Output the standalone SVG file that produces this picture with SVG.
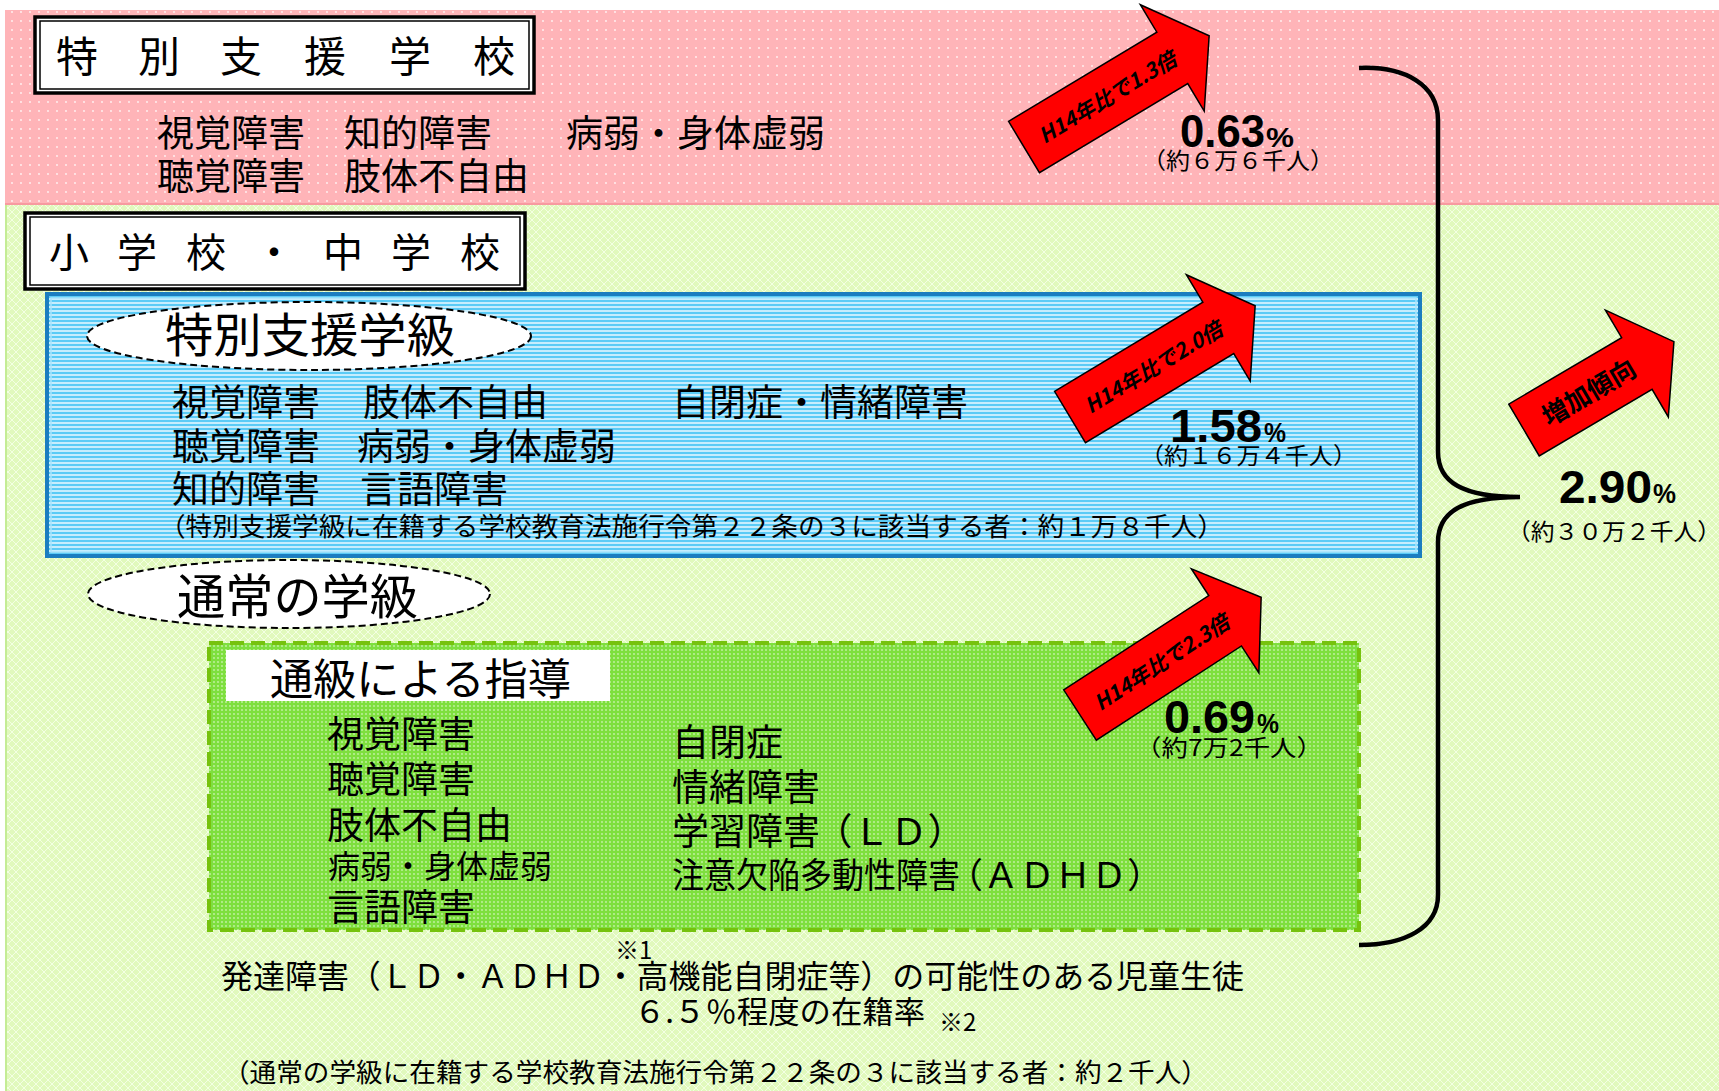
<svg xmlns="http://www.w3.org/2000/svg" xmlns:xlink="http://www.w3.org/1999/xlink" width="1719" height="1091" viewBox="0 0 1719 1091">
<style>
.jp{font-family:"Noto Sans CJK JP","Noto Sans CJK SC",sans-serif;fill:#000;}
.num{font-family:"Liberation Sans",Arial,sans-serif;font-weight:bold;fill:#000;}
.arr{fill:#FF0000;stroke:#000;stroke-width:1.5;stroke-linejoin:miter;}
.arrtxt{font-family:"Noto Sans CJK JP","Noto Sans CJK SC",sans-serif;font-style:italic;font-weight:bold;font-size:21px;fill:#000;}
.frameO{fill:#fff;stroke:#000;stroke-width:3.5;}
.frameI{fill:none;stroke:#000;stroke-width:1.5;}
.ell{fill:#fff;stroke:#000;stroke-width:2;stroke-dasharray:7 4;}
</style>
<defs>
<pattern id="pinkDots" width="9" height="9" patternUnits="userSpaceOnUse">
<rect width="9" height="9" fill="#FFB4B8"/>
<circle cx="3" cy="3" r="0.9" fill="#fff" opacity="0.85"/>
</pattern>
<pattern id="greenLat" width="8" height="8" patternUnits="userSpaceOnUse">
<rect width="8" height="8" fill="#E1F9BD"/>
<path d="M0,0 L8,8 M8,0 L0,8" stroke="#F3FFE3" stroke-width="1"/>
</pattern>
<pattern id="blueStripes" width="8" height="4" patternUnits="userSpaceOnUse">
<rect width="8" height="4" fill="#C6EDFD"/>
<rect width="8" height="2" fill="#5BCBF6"/>
</pattern>
<pattern id="greenDots" width="4" height="4" patternUnits="userSpaceOnUse">
<rect width="4" height="4" fill="#7EDF3E"/>
<circle cx="2" cy="2" r="0.9" fill="#fff" opacity="0.55"/>
</pattern>
<polygon id="arrowLong" points="0,-30 173,-30 173,-62 216,0 173,62 173,30 0,30"/>
<polygon id="arrowShort" points="0,-30 131,-30 131,-62 174,0 131,62 131,30 0,30"/>
</defs>

<rect width="1719" height="1091" fill="#fff"/>

<g id="band-school">
<rect x="5" y="10" width="1714" height="195" fill="url(#pinkDots)"/>
<line x1="5" y1="204" x2="1719" y2="204" stroke="#F79AA0" stroke-width="2"/>
</g>
<g id="band-elementary">
<rect x="5" y="205" width="1714" height="886" fill="url(#greenLat)"/>
<line x1="6" y1="205" x2="6" y2="1091" stroke="#C4EC95" stroke-width="2"/>
</g>

<g id="title-school">
<rect class="frameO" x="35" y="17" width="499" height="76"/>
<rect class="frameI" x="40" y="21" width="489" height="68"/>
<text class="jp" font-size="42" y="72"><tspan x="56">特</tspan><tspan x="138">別</tspan><tspan x="220">支</tspan><tspan x="304">援</tspan><tspan x="389">学</tspan><tspan x="473">校</tspan></text>
</g>

<g id="school-list">
<text class="jp" font-size="37" x="157" y="147">視覚障害</text>
<text class="jp" font-size="37" x="344" y="147">知的障害</text>
<text class="jp" font-size="37" x="566" y="147">病弱・身体虚弱</text>
<text class="jp" font-size="37" x="157" y="190">聴覚障害</text>
<text class="jp" font-size="37" x="344" y="190">肢体不自由</text>
</g>

<g id="title-elementary">
<rect class="frameO" x="25" y="213" width="500" height="76"/>
<rect class="frameI" x="30" y="217" width="490" height="68"/>
<text class="jp" font-size="40" y="267"><tspan x="49">小</tspan><tspan x="117">学</tspan><tspan x="186">校</tspan><tspan x="254">・</tspan><tspan x="323">中</tspan><tspan x="391">学</tspan><tspan x="460">校</tspan></text>
</g>

<g id="special-class">
<rect x="47" y="294" width="1373" height="262" fill="url(#blueStripes)" stroke="#1B7DC0" stroke-width="4"/>
<rect x="51" y="298" width="1365" height="254" fill="none" stroke="#A9E3FB" stroke-width="1.5"/>
<ellipse class="ell" cx="309" cy="336" rx="222" ry="34"/>
<text class="jp" font-size="47" x="165" y="352" textLength="290" lengthAdjust="spacingAndGlyphs">特別支援学級</text>
<text class="jp" font-size="37" x="172" y="416">視覚障害</text>
<text class="jp" font-size="37" x="363" y="416">肢体不自由</text>
<text class="jp" font-size="37" x="672" y="416">自閉症・情緒障害</text>
<text class="jp" font-size="37" x="172" y="460">聴覚障害</text>
<text class="jp" font-size="37" x="357" y="460">病弱・身体虚弱</text>
<text class="jp" font-size="37" x="172" y="503">知的障害</text>
<text class="jp" font-size="37" x="360" y="503">言語障害</text>
<text class="jp" font-size="26" x="159" y="536" textLength="1065" lengthAdjust="spacingAndGlyphs">（特別支援学級に在籍する学校教育法施行令第２２条の３に該当する者：約１万８千人）</text>
</g>

<g id="regular-class">
<ellipse class="ell" cx="289" cy="594" rx="201" ry="34"/>
<text class="jp" font-size="48" x="177" y="614" textLength="241" lengthAdjust="spacingAndGlyphs">通常の学級</text>
</g>

<g id="resource-room">
<rect x="209" y="643" width="1150" height="287" fill="url(#greenDots)" stroke="#76C20E" stroke-width="4" stroke-dasharray="14 7"/>
<rect x="226" y="650" width="384" height="51" fill="#fff"/>
<text class="jp" font-size="43" x="270" y="695" textLength="301" lengthAdjust="spacingAndGlyphs">通級による指導</text>
<text class="jp" font-size="37" x="327" y="748">視覚障害</text>
<text class="jp" font-size="37" x="327" y="793">聴覚障害</text>
<text class="jp" font-size="37" x="327" y="839">肢体不自由</text>
<text class="jp" font-size="32" x="328" y="878">病弱・身体虚弱</text>
<text class="jp" font-size="37" x="327" y="921">言語障害</text>
<text class="jp" font-size="37" x="672" y="756">自閉症</text>
<text class="jp" font-size="37" x="672" y="801">情緒障害</text>
<text class="jp" font-size="37" x="672" y="845">学習障害</text>
<text class="jp" font-size="37" x="815" y="845" textLength="150" lengthAdjust="spacingAndGlyphs">（ＬＤ）</text>
<text class="jp" font-size="35" x="672" y="888" textLength="288" lengthAdjust="spacingAndGlyphs">注意欠陥多動性障害</text>
<text class="jp" font-size="35" x="947" y="888" textLength="216" lengthAdjust="spacingAndGlyphs">（ＡＤＨＤ）</text>
</g>

<g id="footnotes">
<text class="jp" font-size="24" x="615" y="959">※1</text>
<text class="jp" font-size="32" x="221" y="988" textLength="1023" lengthAdjust="spacingAndGlyphs">発達障害（ＬＤ・ＡＤＨＤ・高機能自閉症等）の可能性のある児童生徒</text>
<text class="jp" font-size="31" x="634" y="1023" textLength="291" lengthAdjust="spacingAndGlyphs">６.５％程度の在籍率</text>
<text class="jp" font-size="24" x="939" y="1031">※2</text>
<text class="jp" font-size="26" x="223" y="1082" textLength="985" lengthAdjust="spacingAndGlyphs">（通常の学級に在籍する学校教育法施行令第２２条の３に該当する者：約２千人）</text>
</g>

<g id="connectors">
<path d="M1359,68 C1405,66 1438,85 1438,120 L1438,452 C1438,482 1462,497 1520,497 C1462,497 1438,512 1438,542 L1438,895 C1438,928 1405,945 1359,945" fill="none" stroke="#000" stroke-width="4.5"/>
</g>

<g id="rate-school">
<use xlink:href="#arrowLong" href="#arrowLong" class="arr" transform="translate(1024,147) rotate(-31)"/>
<text class="arrtxt" transform="translate(1024,147) rotate(-31)" x="97" y="8" text-anchor="middle">H14年比で1.3倍</text>
<text class="num" font-size="46" x="1180" y="147" textLength="85" lengthAdjust="spacingAndGlyphs">0.63</text>
<text class="num" font-size="28" x="1266" y="147" textLength="28" lengthAdjust="spacingAndGlyphs">%</text>
<text class="jp" font-size="23" x="1142" y="169" textLength="192" lengthAdjust="spacingAndGlyphs">（約６万６千人）</text>
</g>

<g id="rate-special-class">
<use xlink:href="#arrowLong" href="#arrowLong" class="arr" transform="translate(1070,417) rotate(-31)"/>
<text class="arrtxt" transform="translate(1070,417) rotate(-31)" x="97" y="8" text-anchor="middle">H14年比で2.0倍</text>
<text class="num" font-size="46" x="1170" y="442" textLength="92" lengthAdjust="spacingAndGlyphs">1.58</text>
<text class="num" font-size="28" x="1264" y="442" textLength="22" lengthAdjust="spacingAndGlyphs">%</text>
<text class="jp" font-size="23" x="1140" y="464" textLength="217" lengthAdjust="spacingAndGlyphs">（約１６万４千人）</text>
</g>

<g id="rate-resource-room">
<use xlink:href="#arrowLong" href="#arrowLong" class="arr" transform="translate(1080,715) rotate(-33)"/>
<text class="arrtxt" transform="translate(1080,715) rotate(-33)" x="97" y="8" text-anchor="middle">H14年比で2.3倍</text>
<text class="num" font-size="46" x="1164" y="733" textLength="91" lengthAdjust="spacingAndGlyphs">0.69</text>
<text class="num" font-size="28" x="1257" y="733" textLength="22" lengthAdjust="spacingAndGlyphs">%</text>
<text class="jp" font-size="23" x="1135" y="756" textLength="188" lengthAdjust="spacingAndGlyphs">（約7万2千人）</text>
</g>

<g id="rate-total">
<use xlink:href="#arrowShort" href="#arrowShort" class="arr" transform="translate(1524,430) rotate(-30.5)"/>
<text class="jp" font-size="26" font-weight="bold" transform="translate(1524,430) rotate(-30.5)" x="75" y="10" text-anchor="middle">増加傾向</text>
<text class="num" font-size="46" x="1559" y="503" textLength="93" lengthAdjust="spacingAndGlyphs">2.90</text>
<text class="num" font-size="28" x="1653" y="503" textLength="23" lengthAdjust="spacingAndGlyphs">%</text>
<text class="jp" font-size="23" x="1507" y="540" textLength="214" lengthAdjust="spacingAndGlyphs">（約３０万２千人）</text>
</g>
</svg>
